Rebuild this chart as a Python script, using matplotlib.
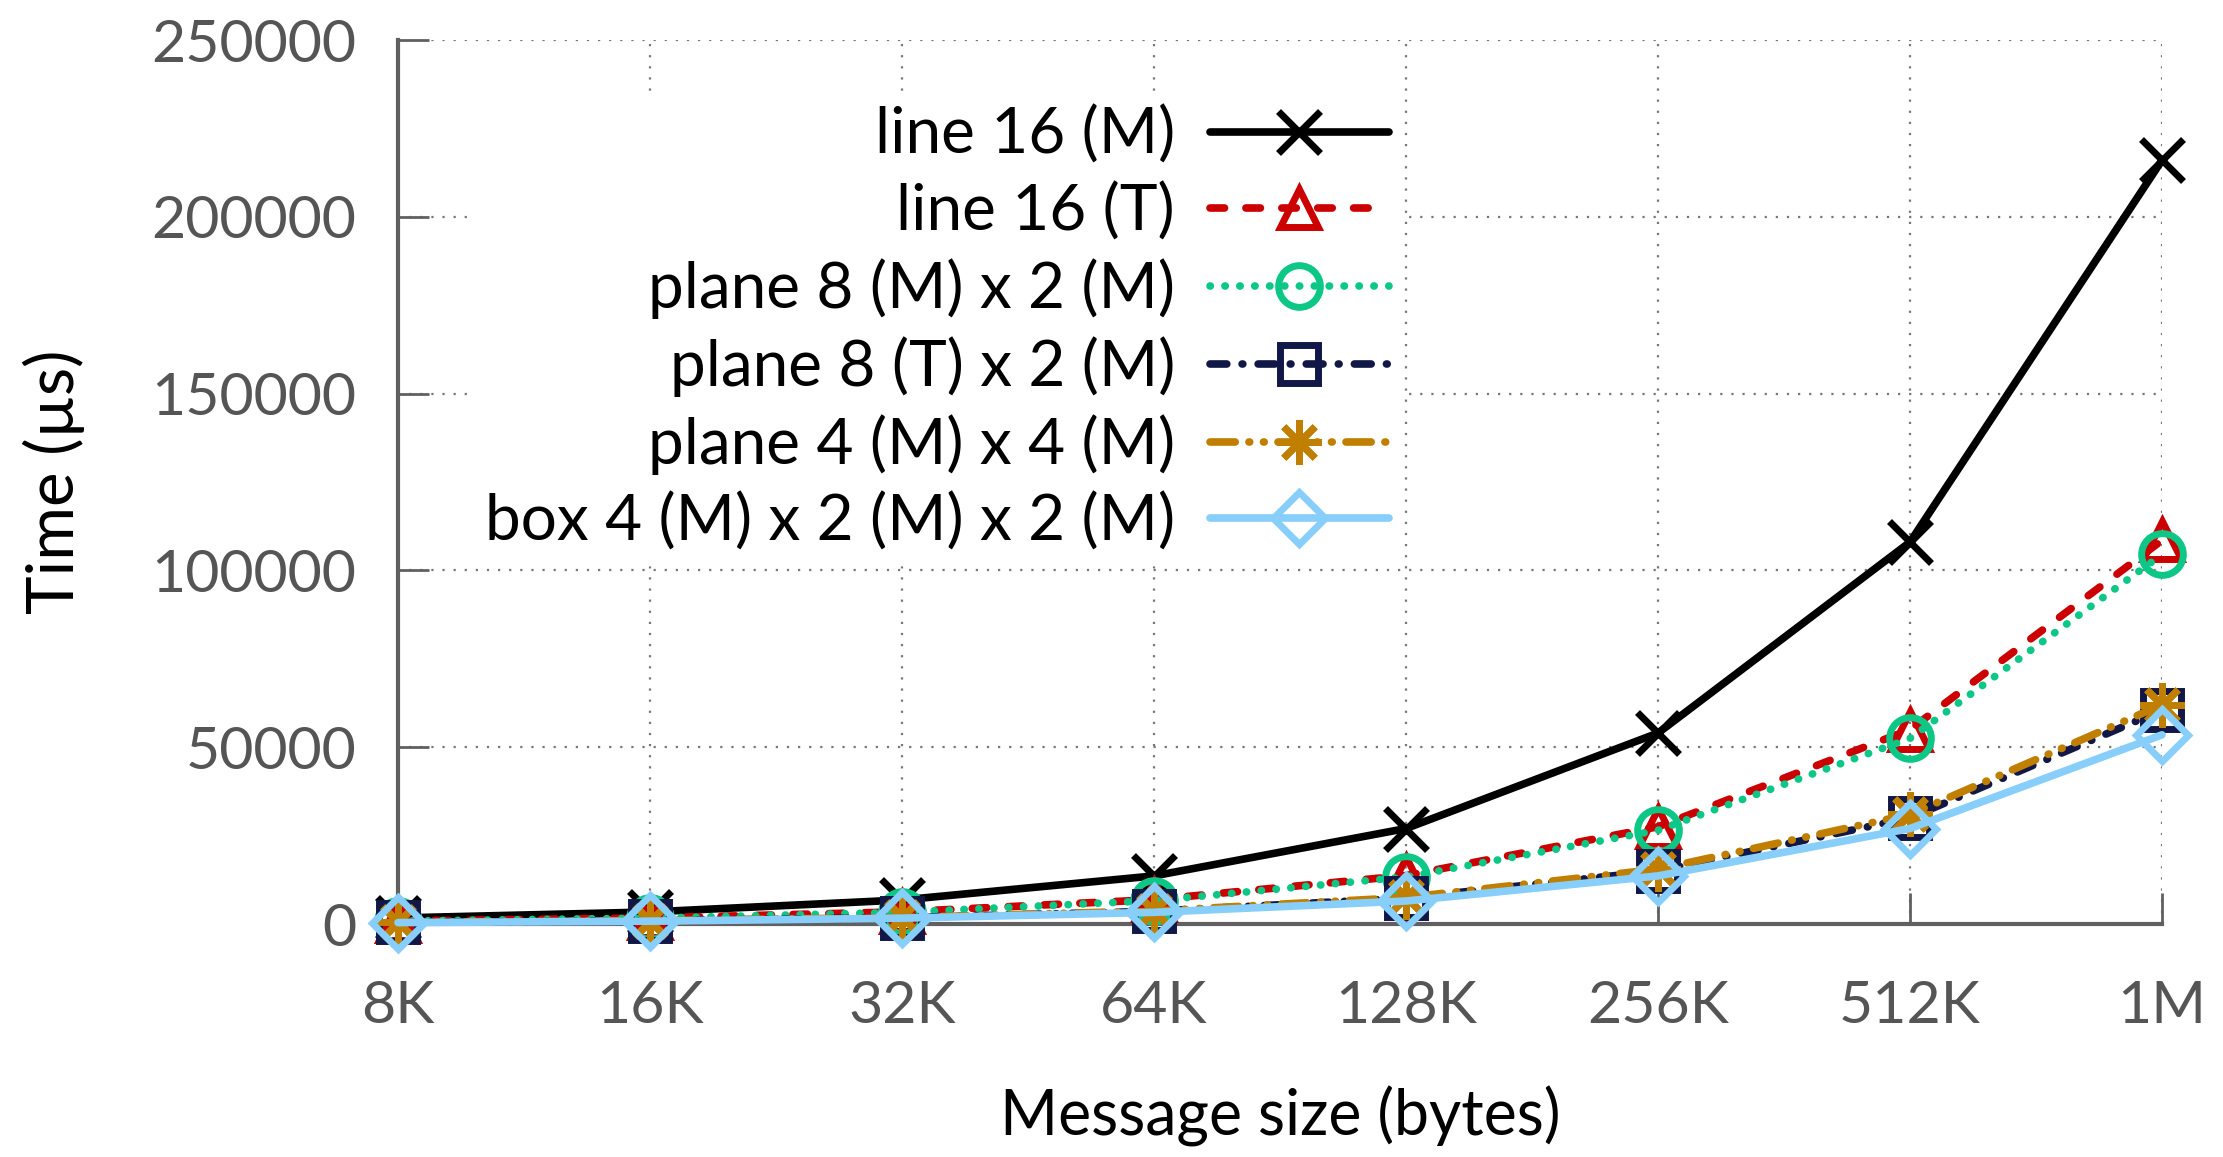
import matplotlib
matplotlib.use("Agg")
import matplotlib.pyplot as plt

plt.rcParams['font.family'] = ['Lato', 'DejaVu Sans']

sizes = ["8K", "16K", "32K", "64K", "128K", "256K", "512K", "1M"]
line16_M = [1700, 3400, 6800, 13600, 27000, 54000, 108000, 216000]
line16_T = [850, 1700, 3450, 6900, 13700, 27500, 55000, 108500]
plane8M_2M = [830, 1650, 3300, 6600, 13300, 26500, 52500, 104500]
plane8T_2M = [450, 900, 1800, 3600, 7300, 15000, 30000, 60500]
plane4M_4M = [460, 920, 1850, 3700, 7500, 15500, 31000, 62000]
box4_2_2 = [400, 800, 1650, 3300, 6500, 13600, 27000, 53500]

labels = ["line 16 (M)", "line 16 (T)", "plane 8 (M) x 2 (M)",
          "plane 8 (T) x 2 (M)", "plane 4 (M) x 4 (M)", "box 4 (M) x 2 (M) x 2 (M)"]
series = [line16_M, line16_T, plane8M_2M, plane8T_2M, plane4M_4M, box4_2_2]
colors = ["#000000", "#cc0000", "#0cc785", "#111747", "#c07f00", "#87cefa"]
markers = ["x", "^", "o", "s", (8, 2, 0), "D"]
msizes = [30, 28, 30, 28, 32, 26]
dashes = [None, (1.9, 2.8), (0.05, 1.9), (2.2, 2.0, 0.1, 2.0),
          (3.3, 1.8, 0.1, 1.8, 0.1, 1.8), None]

W, H = 2223, 1157
fig = plt.figure(figsize=(W / 100, H / 100), dpi=100)
ax = fig.add_axes([398 / W, 1 - 924 / H, (2162 - 398) / W, (924 - 40) / H])

x = list(range(len(sizes)))
lw = 5.5
for i, (ys, lab, c, m, ms, d) in enumerate(zip(series, labels, colors, markers, msizes, dashes)):
    kw = {}
    if d is not None:
        kw['dashes'] = d
    ax.plot(x, ys, color=c, lw=lw, marker=m, markersize=ms,
            markerfacecolor='none', markeredgecolor=c, markeredgewidth=5,
            label=lab, clip_on=False, zorder=3 + i,
            dash_capstyle='round', solid_capstyle='round', **kw)

ax.set_xlim(0, len(sizes) - 1)
ax.set_ylim(0, 250000)
ax.set_xticks(x)
ax.set_xticklabels(sizes)
ax.set_yticks([0, 50000, 100000, 150000, 200000, 250000])
ax.set_yticklabels(["0", "50000", "100000", "150000", "200000", "250000"])

for s in ['top', 'right']:
    ax.spines[s].set_visible(False)
for s in ['left', 'bottom']:
    ax.spines[s].set_color('#606060')
    ax.spines[s].set_linewidth(3)

ax.tick_params(axis='both', direction='in', length=22, width=2, color='#606060',
               labelcolor='#555555', labelsize=42.5)
ax.tick_params(axis='x', pad=40)
ax.tick_params(axis='y', pad=30)
ax.grid(True, linestyle=(0, (1, 4)), color='#777777', linewidth=1.6)

ax.set_xlabel("Message size (bytes)", fontsize=45, labelpad=38)
ax.set_ylabel("Time (µs)", fontsize=47, labelpad=48)

leg = ax.legend(loc='upper right', bbox_to_anchor=(0.569, 0.94), markerfirst=False,
                fontsize=46, handlelength=2.8, handletextpad=0.55, labelspacing=0.27,
                borderpad=0.2, borderaxespad=0, frameon=True, fancybox=False,
                facecolor='white', edgecolor='white', framealpha=1)
leg.set_zorder(20)

fig.savefig("out.png", dpi=100)
